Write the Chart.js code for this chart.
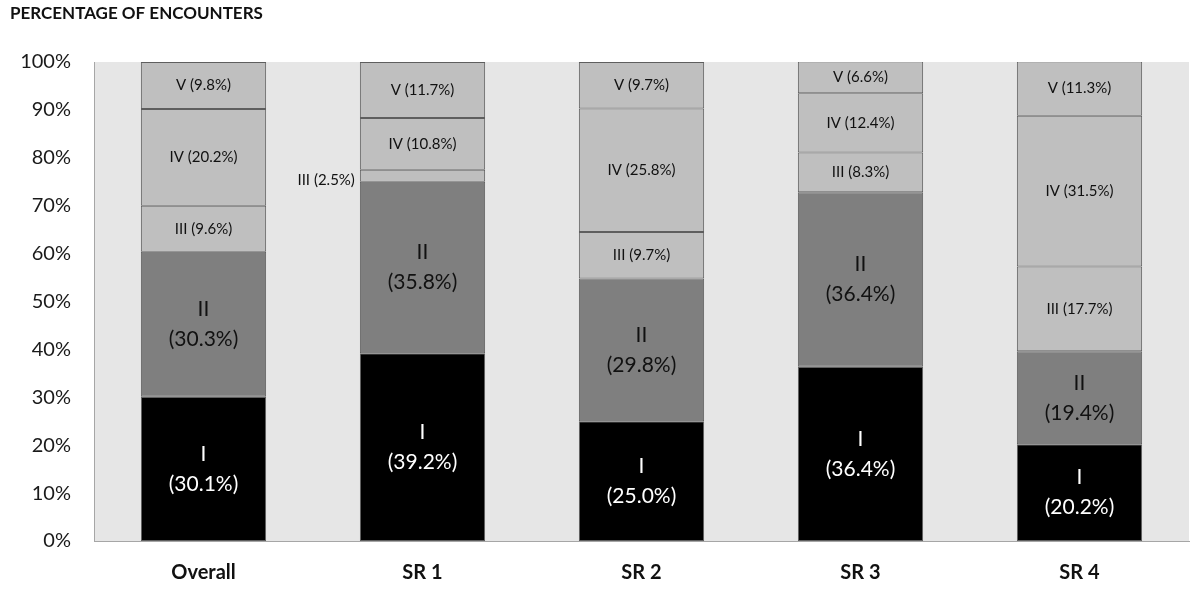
<!DOCTYPE html>
<html>
<head>
<meta charset="utf-8">
<script src="https://cdn.jsdelivr.net/npm/chart.js@4/dist/chart.umd.min.js"></script>
<style>
html,body{margin:0;padding:0;background:#fff;}
#wrap{width:1200px;height:598px;position:relative;}
</style>
</head>
<body>
<div id="wrap"><canvas id="c" width="1200" height="598"></canvas></div>
<script>
const categories = ['Overall', 'SR 1', 'SR 2', 'SR 3', 'SR 4'];
const levelNames = ['I', 'II', 'III', 'IV', 'V'];
const levelI   = [30.1, 39.2, 25.0, 36.4, 20.2];
const levelII  = [30.3, 35.8, 29.8, 36.4, 19.4];
const levelIII = [9.6, 2.5, 9.7, 8.3, 17.7];
const levelIV  = [20.2, 10.8, 25.8, 12.4, 31.5];
const levelV   = [9.8, 11.7, 9.7, 6.6, 11.3];
const yTicks = [0, 10, 20, 30, 40, 50, 60, 70, 80, 90, 100];
const titleText = 'PERCENTAGE OF ENCOUNTERS';

const FONT = 'Lato, "Open Sans", sans-serif';
const fills = ['#000000', '#7f7f7f', '#bfbfbf', '#bfbfbf', '#bfbfbf'];
const seriesValues = [levelI, levelII, levelIII, levelIV, levelV];

const datasets = seriesValues.map((vals, i) => ({
  label: levelNames[i],
  data: vals,
  backgroundColor: fills[i],
  borderColor: '#5e5e5e',
  borderWidth: 1,
  borderSkipped: false,
  barPercentage: 0.572,
  categoryPercentage: 1.0
}));

const bgPlugin = {
  id: 'bg',
  beforeDraw(chart) {
    const {ctx, chartArea: a} = chart;
    ctx.save();
    ctx.fillStyle = '#e6e6e6';
    ctx.fillRect(a.left, a.top, a.right - a.left, a.bottom - a.top);
    ctx.restore();
  },
  afterDraw(chart) {
    const ctx = chart.ctx;
    ctx.save();
    ctx.font = 'bold 17px ' + FONT;
    ctx.fillStyle = '#111';
    ctx.textAlign = 'left';
    ctx.textBaseline = 'middle';
    ctx.fillText(titleText, 10, 14);
    ctx.restore();
  }
};

const labelPlugin = {
  id: 'segLabels',
  afterDatasetsDraw(chart) {
    const ctx = chart.ctx;
    ctx.save();
    chart.data.datasets.forEach((ds, i) => {
      const meta = chart.getDatasetMeta(i);
      meta.data.forEach((bar, j) => {
        const v = ds.data[j];
        const txtVal = '(' + v.toFixed(1) + '%)';
        const cy = (bar.y + bar.base) / 2;
        if (i < 2) {
          ctx.font = '21px ' + FONT;
          ctx.fillStyle = i === 0 ? '#ffffff' : '#111111';
          ctx.textAlign = 'center';
          ctx.textBaseline = 'middle';
          ctx.fillText(levelNames[i], bar.x, cy - 15);
          ctx.fillText(txtVal, bar.x, cy + 15);
        } else {
          ctx.font = '15px ' + FONT;
          ctx.fillStyle = '#111111';
          ctx.textBaseline = 'middle';
          const t = levelNames[i] + ' ' + txtVal;
          if (v < 4) {
            ctx.textAlign = 'right';
            ctx.fillText(t, bar.x - bar.width / 2 - 5, cy + 4);
          } else {
            ctx.textAlign = 'center';
            ctx.fillText(t, bar.x, cy);
          }
        }
      });
    });
    ctx.restore();
  }
};

new Chart(document.getElementById('c'), {
  type: 'bar',
  data: { labels: categories, datasets },
  options: {
    responsive: false,
    animation: false,
    layout: { padding: { left: 0, right: 11, top: 62, bottom: 0 } },
    plugins: { legend: { display: false }, tooltip: { enabled: false } },
    scales: {
      x: {
        stacked: true,
        grid: { display: false, drawTicks: false },
        border: { display: true, color: '#a6a6a6', width: 1 },
        ticks: { font: { family: FONT, size: 20, weight: 'bold' }, color: '#111', padding: 20 },
        afterFit(s) { s.height = 57; }
      },
      y: {
        stacked: true,
        min: 0, max: 100,
        afterBuildTicks(s) { s.ticks = yTicks.map(v => ({ value: v })); },
        grid: { display: false, drawTicks: false },
        border: { display: true, color: '#a6a6a6', width: 1 },
        ticks: { font: { family: FONT, size: 20 }, color: '#1a1a1a', padding: 23,
                 callback: v => v + '%' },
        afterFit(s) { s.width = 94; }
      }
    }
  },
  plugins: [bgPlugin, labelPlugin]
});
</script>
</body>
</html>
